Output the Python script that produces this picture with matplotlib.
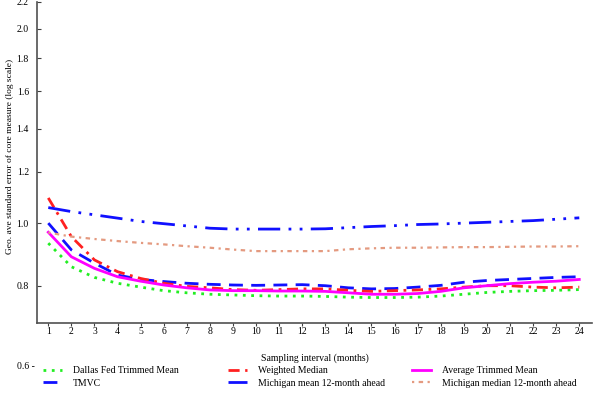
import numpy as np
import matplotlib
matplotlib.use('Agg')
import matplotlib.pyplot as plt
from matplotlib.lines import Line2D

plt.rcParams['font.family'] = ['Liberation Serif', 'DejaVu Serif']

months = list(range(1, 25))

dallas = [0.931, 0.856, 0.824, 0.807, 0.796, 0.786, 0.780, 0.776, 0.774, 0.772,
          0.771, 0.771, 0.770, 0.768, 0.767, 0.767, 0.768, 0.771, 0.776, 0.781,
          0.784, 0.786, 0.787, 0.789]
tmvc = [1.000, 0.909, 0.867, 0.831, 0.818, 0.812, 0.807, 0.804, 0.802, 0.801,
        0.802, 0.803, 0.800, 0.794, 0.791, 0.792, 0.796, 0.801, 0.810, 0.815,
        0.818, 0.821, 0.824, 0.826]
wmedian = [1.094, 0.953, 0.877, 0.841, 0.821, 0.807, 0.798, 0.794, 0.789, 0.787,
           0.789, 0.791, 0.791, 0.787, 0.784, 0.786, 0.788, 0.791, 0.796, 0.800,
           0.800, 0.796, 0.794, 0.796]
mich_mean = [1.057, 1.042, 1.030, 1.018, 1.006, 0.998, 0.990, 0.982, 0.979, 0.979,
             0.979, 0.979, 0.980, 0.984, 0.988, 0.991, 0.995, 0.997, 1.000, 1.003,
             1.006, 1.009, 1.014, 1.019]
avg_tm = [0.968, 0.887, 0.851, 0.826, 0.813, 0.802, 0.794, 0.788, 0.786, 0.786,
          0.785, 0.785, 0.784, 0.780, 0.776, 0.776, 0.778, 0.784, 0.794, 0.800,
          0.806, 0.810, 0.813, 0.818]
mich_median = [0.967, 0.953, 0.945, 0.938, 0.932, 0.927, 0.921, 0.916, 0.910, 0.905,
               0.905, 0.905, 0.905, 0.911, 0.914, 0.916, 0.916, 0.917, 0.918, 0.918,
               0.919, 0.920, 0.920, 0.921]

y_ticks = [0.8, 1.0, 1.2, 1.4, 1.6, 1.8, 2.0, 2.2]

fig = plt.figure(figsize=(6, 3.97), dpi=100)
ax = fig.add_axes([0.062, 0.186, 0.925, 0.809])

styles = [
    dict(color='#22ee22', lw=2, ls=(0, (1, 2))),
    dict(color='#1010ff', lw=2, ls=(0, (5, 3))),
    dict(color='#ff2020', lw=2, ls=(0, (4, 2, 1, 2))),
    dict(color='#1010ff', lw=2, ls=(0, (8, 3, 1, 3, 1, 3))),
    dict(color='#ff00ff', lw=2, ls='-'),
    dict(color='#e49a80', lw=1.6, ls=(0, (1, 2, 2, 2))),
]
series = [dallas, tmvc, wmedian, mich_mean, avg_tm, mich_median]
for vals, st in zip(series, styles):
    ax.plot(months, vals, **st)

ax.set_yscale('log')
ax.set_ylim(0.70, 2.2)
ax.set_xlim(0.52, 24.56)
ax.set_yticks(y_ticks)
ax.set_yticklabels(['%.1f' % v for v in y_ticks])
ax.yaxis.set_minor_locator(matplotlib.ticker.NullLocator())
ax.set_xticks(months)

for s in ['top', 'right']:
    ax.spines[s].set_visible(False)
for s in ['left', 'bottom']:
    ax.spines[s].set_color('#505050')
    ax.spines[s].set_linewidth(1.2)
ax.tick_params(axis='y', direction='in', length=3, labelsize=7, pad=6, color='#404040')
ax.tick_params(axis='x', direction='out', length=2, labelsize=7, pad=1, color='#404040')

# 0.6 label sits below the axis box in the original
ax.text(-0.004, 0.6, '0.6 -', transform=ax.get_yaxis_transform(), ha='right',
        va='center', fontsize=7, clip_on=False)

ax.set_xlabel('Sampling interval (months)', fontsize=7, labelpad=12)
ax.set_ylabel('Geo. ave standard error of core measure (log scale)', fontsize=6.8)
ax.yaxis.set_label_coords(-0.042, 0.52)

handles = [Line2D([], [], **st) for st in styles]
labels = ['Dallas Fed Trimmed Mean', 'TMVC', 'Weighted Median',
          'Michigan mean 12-month ahead', 'Average Trimmed Mean',
          'Michigan median 12-month ahead']
col_x = [43, 228, 412]
for i, x0 in enumerate(col_x):
    fig.legend(handles[2 * i:2 * i + 2], labels[2 * i:2 * i + 2],
               loc='upper left', bbox_to_anchor=(x0 / 600, 1 - 366 / 397),
               frameon=False, fontsize=7, handlelength=2.0, handletextpad=1.1,
               borderpad=0, borderaxespad=0, labelspacing=0.4)

fig.savefig('out.png', dpi=100)
